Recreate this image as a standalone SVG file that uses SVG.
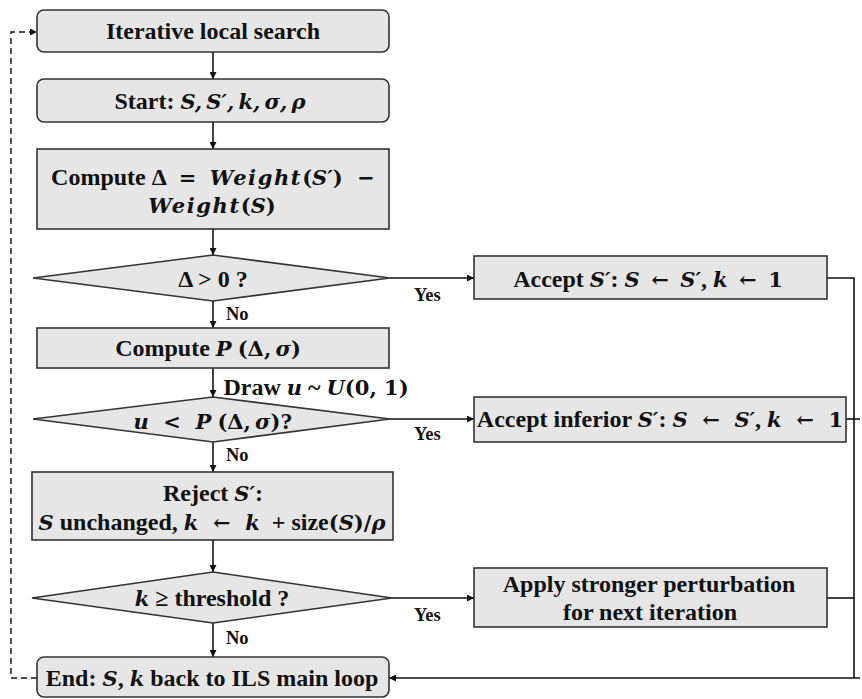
<svg xmlns="http://www.w3.org/2000/svg" width="862" height="699" viewBox="0 0 862 699">
  <style>
    .box { fill: #e6e6e6; stroke: #333; stroke-width: 1.6; }
    .t { font-family: "Liberation Serif", "Times New Roman", serif; font-weight: bold; font-size: 24px; fill: #111; text-anchor: middle; }
    .i { font-family: "DejaVu Serif", "Liberation Serif", serif; font-style: italic; font-size: 21px; }
    .m { font-family: "DejaVu Serif", "Liberation Serif", serif; font-size: 21px; }
    .w { letter-spacing: 1.6px; }
    .lbl { font-family: "Liberation Serif", "Times New Roman", serif; font-weight: bold; font-size: 18.5px; fill: #111; }
    .edge { fill: none; stroke: #111; stroke-width: 1.6; }
    .dash { fill: none; stroke: #111; stroke-width: 1.4; stroke-dasharray: 6 4; }
  </style>
  <defs>
    <marker id="arr" viewBox="0 0 10 10" refX="10" refY="5" markerWidth="7" markerHeight="7" markerUnits="userSpaceOnUse" orient="auto">
      <path d="M0,0 L10,5 L0,10 z" fill="#111"/>
    </marker>
  </defs>

  <g id="connectors">
    <line class="edge" x1="213" y1="52" x2="213" y2="79" marker-end="url(#arr)"/>
    <line class="edge" x1="213" y1="122" x2="213" y2="149" marker-end="url(#arr)"/>
    <line class="edge" x1="213" y1="229" x2="213" y2="255" marker-end="url(#arr)"/>
    <line class="edge" x1="213" y1="301" x2="213" y2="328" marker-end="url(#arr)"/>
    <line class="edge" x1="213" y1="368" x2="213" y2="397" marker-end="url(#arr)"/>
    <line class="edge" x1="213" y1="442" x2="213" y2="472" marker-end="url(#arr)"/>
    <line class="edge" x1="213" y1="540" x2="213" y2="572" marker-end="url(#arr)"/>
    <line class="edge" x1="213" y1="623" x2="213" y2="657" marker-end="url(#arr)"/>
    <line class="edge" x1="390" y1="278" x2="474" y2="278" marker-end="url(#arr)"/>
    <line class="edge" x1="390" y1="419" x2="474" y2="419" marker-end="url(#arr)"/>
    <line class="edge" x1="392" y1="598" x2="474" y2="598" marker-end="url(#arr)"/>
    <polyline class="edge" points="827,278 854,278 854,678"/>
    <line class="edge" x1="846" y1="419" x2="860" y2="419"/>
    <line class="edge" x1="827" y1="598" x2="854" y2="598"/>
    <line class="edge" x1="860" y1="678" x2="389" y2="678" marker-end="url(#arr)"/>
    <polyline class="dash" points="37,678 11,678 11,32 37,32" marker-end="url(#arr)"/>
    <text class="lbl" x="414" y="301">Yes</text>
    <text class="lbl" x="414" y="440">Yes</text>
    <text class="lbl" x="414" y="621">Yes</text>
    <text class="lbl" x="226" y="320">No</text>
    <text class="lbl" x="226" y="461">No</text>
    <text class="lbl" x="226" y="644">No</text>
    <text class="t" x="316" y="395">Draw <tspan class="i">u</tspan> ~ <tspan class="i">U</tspan><tspan class="m">(0, 1)</tspan></text>
  </g>

  <g id="n-ils">
    <rect class="box" x="37" y="10" width="352" height="42" rx="7"/>
    <text class="t" x="213" y="39">Iterative local search</text>
  </g>

  <g id="n-start">
    <rect class="box" x="37" y="79" width="352" height="43" rx="7"/>
    <text class="t" x="210" y="109">Start: <tspan class="i">S,&#8201;S′,&#8201;k,&#8201;σ,&#8201;ρ</tspan></text>
  </g>

  <g id="n-delta">
    <rect class="box" x="37" y="149" width="352" height="80"/>
    <text class="t" x="213" y="185">Compute Δ <tspan class="m">&#160;=&#160;</tspan> <tspan class="i w">Weight</tspan><tspan class="m">(</tspan><tspan class="i">S′</tspan><tspan class="m">)&#160; −</tspan></text>
    <text class="t" x="212" y="213"><tspan class="i w">Weight</tspan><tspan class="m">(</tspan><tspan class="i">S</tspan><tspan class="m">)</tspan></text>
  </g>

  <g id="d-positive">
    <polygon class="box" points="33,278 213,255 390,278 213,301"/>
    <text class="t" x="213" y="287">Δ &gt; 0 ?</text>
  </g>

  <g id="n-prob">
    <rect class="box" x="37" y="328" width="352" height="40"/>
    <text class="t" x="208" y="356">Compute <tspan class="i">P</tspan> <tspan class="m">(Δ,&#8201;</tspan><tspan class="i">σ</tspan><tspan class="m">)</tspan></text>
  </g>

  <g id="d-uniform">
    <polygon class="box" points="33,419 213,397 390,419 213,442"/>
    <text class="t" x="213" y="429"><tspan class="i">u</tspan><tspan class="m">&#160;&#160;&lt;&#160;&#160;</tspan><tspan class="i">P</tspan> <tspan class="m">(Δ,&#8201;</tspan><tspan class="i">σ</tspan><tspan class="m">)</tspan>?</text>
  </g>

  <g id="n-reject">
    <rect class="box" x="32" y="472" width="361" height="68"/>
    <text class="t" x="213" y="501">Reject <tspan class="i">S′</tspan>:</text>
    <text class="t" x="212" y="530"><tspan class="i">S</tspan> unchanged, <tspan class="i">k</tspan><tspan class="m">&#160;&#160;←&#160;&#160;</tspan><tspan class="i">k</tspan>&#160;&#160;+ size<tspan class="m">(</tspan><tspan class="i">S</tspan><tspan class="m">)/</tspan><tspan class="i">ρ</tspan></text>
  </g>

  <g id="d-threshold">
    <polygon class="box" points="32,598 213,572 392,598 213,623"/>
    <text class="t" x="212" y="606"><tspan class="i">k</tspan> ≥ threshold ?</text>
  </g>

  <g id="n-end">
    <rect class="box" x="37" y="657" width="352" height="40" rx="7"/>
    <text class="t" x="212" y="686">End: <tspan class="i">S</tspan>, <tspan class="i">k</tspan> back to ILS main loop</text>
  </g>

  <g id="n-accept">
    <rect class="box" x="474" y="256" width="353" height="43"/>
    <text class="t" x="648" y="287">Accept <tspan class="i">S′</tspan>: <tspan class="i">S</tspan><tspan class="m">&#160;&#8201;←&#160;&#8201;</tspan><tspan class="i">S′</tspan>, <tspan class="i">k</tspan><tspan class="m">&#160;&#8201;←&#160;&#8201;1</tspan></text>
  </g>

  <g id="n-accept-inferior">
    <rect class="box" x="474" y="397" width="372" height="45"/>
    <text class="t" x="660" y="427">Accept inferior <tspan class="i">S′</tspan>: <tspan class="i">S</tspan><tspan class="m">&#160;&#160;←&#160;&#160;</tspan><tspan class="i">S′</tspan>, <tspan class="i">k</tspan><tspan class="m">&#160;&#160;←&#160;&#160;1</tspan></text>
  </g>

  <g id="n-perturb">
    <rect class="box" x="474" y="568" width="353" height="59"/>
    <text class="t" x="649" y="592">Apply stronger perturbation</text>
    <text class="t" x="650" y="620">for next iteration</text>
  </g>
</svg>
